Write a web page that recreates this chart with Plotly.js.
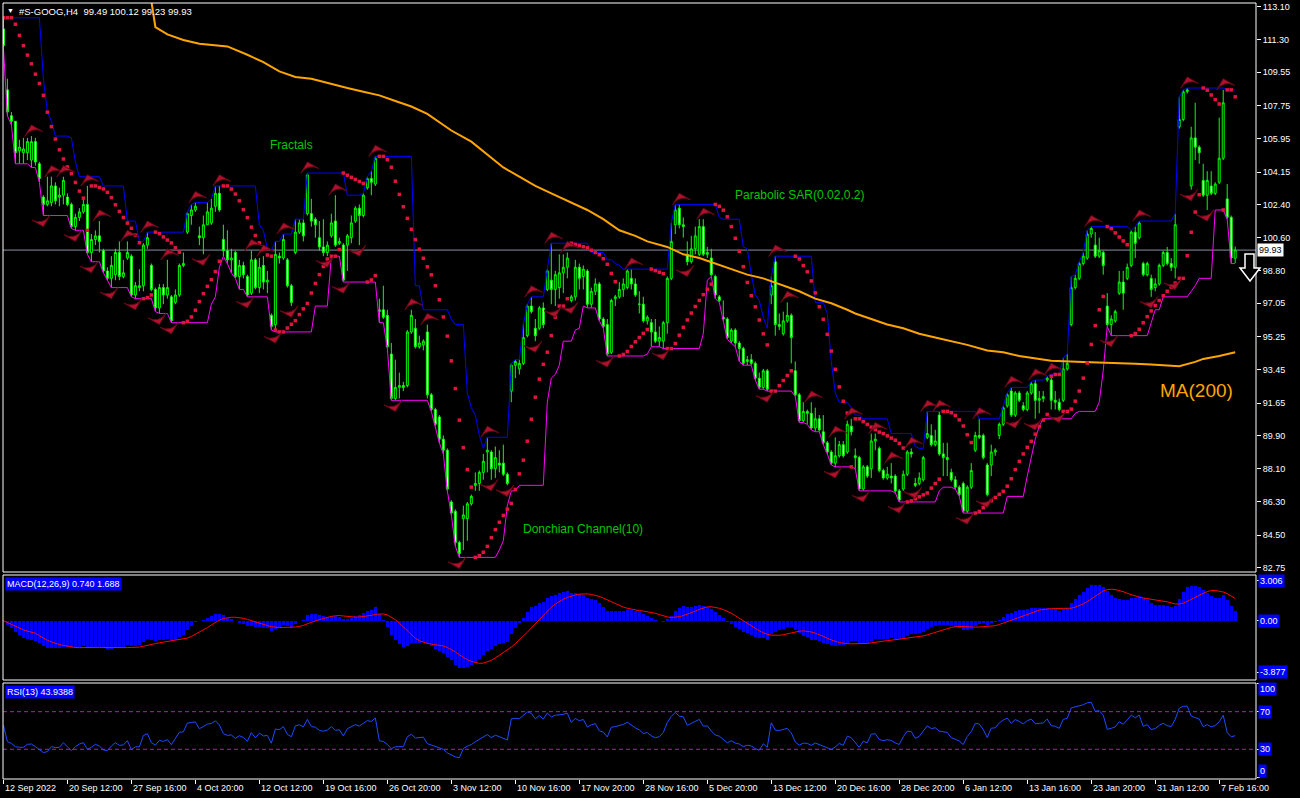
<!DOCTYPE html>
<html><head><meta charset="utf-8">
<script src="https://cdn.plot.ly/plotly-3.0.1.min.js"></script>
<style>html,body{margin:0;padding:0;background:#000;overflow:hidden}#chart{width:1300px;height:798px}</style>
</head><body><div id="chart"></div>
<script>
// ---- H4 candles, #S-GOOG ----
const open = [
111.9,108.6,107.2,106.9,105.3,105.2,105.2,104.8,105.8,104.6,
102.8,102.4,102.5,103.4,102.8,102.9,102.8,102.4,101.2,101.7,
102.0,102.4,99.8,100.5,100.7,99.9,98.8,98.4,98.6,99.8,
98.5,99.5,99.6,97.5,97.9,98.0,100.2,99.1,97.8,96.8,
97.9,97.5,97.4,97.1,97.5,99.1,100.9,101.8,102.1,100.7,
100.6,101.3,101.4,102.3,103.0,100.5,99.9,99.4,99.8,98.5,
99.1,98.5,97.6,99.4,97.9,99.1,98.2,96.4,95.9,99.6,
99.5,99.4,98.0,99.8,100.9,101.4,101.9,101.9,101.6,100.6,
100.1,99.8,100.7,101.5,100.3,100.2,100.2,100.6,101.5,102.2,
101.8,103.3,103.8,103.5,96.6,96.7,96.4,94.3,91.9,92.5,
92.6,92.6,95.5,95.7,94.7,94.8,95.5,92.1,91.3,90.9,
89.7,89.1,86.3,85.8,84.1,85.4,85.4,86.2,87.2,87.3,
87.9,89.0,89.0,88.1,88.4,88.4,87.8,92.3,93.7,93.5,
93.8,95.3,96.9,95.7,95.7,96.8,97.8,98.3,97.8,97.9,
98.7,99.0,97.2,97.4,99.0,98.5,98.8,97.0,97.7,98.1,
96.2,95.9,94.4,97.3,97.4,97.8,97.9,98.4,98.1,97.0,
97.0,96.1,96.0,95.5,95.0,95.0,96.0,98.4,101.3,102.2,
101.3,99.7,99.3,100.0,99.7,101.2,99.7,99.5,98.5,97.4,
96.3,96.2,95.0,95.6,94.9,94.6,93.9,94.0,93.8,93.0,
92.5,93.4,97.5,99.3,95.9,95.4,96.1,96.4,93.4,92.1,
90.7,91.2,91.1,90.3,90.8,90.1,89.5,89.0,88.4,88.8,
89.4,89.0,90.4,88.8,88.7,87.0,88.2,88.1,89.6,89.2,
88.0,87.6,87.7,87.7,86.9,87.0,87.8,89.0,87.3,87.3,
87.5,89.8,89.9,89.4,91.0,88.9,88.7,87.9,87.5,87.1,
87.3,85.8,87.1,89.1,89.9,89.9,88.3,88.3,89.0,89.9,
90.5,91.5,92.3,91.0,92.2,91.5,91.3,92.2,92.7,91.8,
91.9,92.9,92.9,91.8,91.7,91.8,93.5,95.9,97.9,98.4,
99.2,99.5,100.8,100.2,99.6,99.8,96.9,95.9,96.1,97.6,
98.2,98.4,99.1,100.9,100.6,99.2,98.6,98.4,97.9,98.1,
99.1,99.8,99.2,99.0,106.6,107.0,108.5,103.4,106.0,105.5,
103.7,102.9,103.4,103.0,103.6,104.9,102.7,101.7,99.49];
const high = [
112.5,109.2,107.4,106.9,105.9,106.0,106.0,106.1,106.0,104.7,
102.9,103.9,103.9,103.6,103.3,103.9,103.0,102.5,101.9,102.2,
102.7,103.4,100.8,101.0,101.5,100.0,99.0,99.6,100.0,100.4,
99.4,100.4,99.7,98.2,98.9,100.3,100.9,99.2,97.9,98.1,
98.1,99.4,97.5,97.8,99.2,99.8,102.0,102.4,102.5,101.2,
101.8,102.5,102.7,103.4,103.4,101.3,101.0,100.0,99.9,99.4,
99.3,98.6,99.9,99.5,99.5,99.6,98.8,96.5,100.4,99.8,
100.8,99.5,98.1,101.6,101.6,101.6,104.1,102.7,101.7,101.5,
101.6,100.4,101.9,102.9,100.6,100.3,100.8,101.8,102.3,102.4,
103.0,103.9,104.2,105.0,97.3,98.0,96.7,94.9,94.0,93.3,
92.8,95.6,96.7,96.2,95.3,95.1,95.9,92.2,91.4,91.0,
89.9,89.2,86.4,85.9,84.2,86.1,86.3,86.7,87.9,88.0,
88.9,89.8,89.1,89.3,89.1,89.4,87.9,93.8,94.0,94.0,
95.9,97.0,97.4,96.2,96.9,97.1,98.9,100.3,98.8,99.7,
99.7,99.8,97.5,99.4,99.2,99.1,98.9,97.9,98.4,98.2,
96.3,96.2,97.3,97.5,98.2,98.4,98.9,98.9,98.4,97.7,
97.4,96.4,96.2,96.2,95.8,96.1,98.5,101.4,102.4,102.4,
101.7,100.4,100.7,101.2,101.6,101.6,100.1,100.0,98.6,97.5,
97.2,96.3,95.7,95.7,95.0,94.7,94.2,94.3,93.9,93.3,
93.5,93.5,98.5,99.6,96.5,96.6,97.1,96.5,93.9,92.2,
91.7,91.3,91.7,91.4,91.0,91.0,89.6,89.1,89.8,89.6,
89.6,90.7,90.8,89.2,88.8,88.3,88.3,90.0,90.0,89.3,
88.1,88.2,88.4,87.8,87.0,88.0,89.1,89.2,87.6,87.9,
88.8,91.2,90.5,90.2,91.2,89.5,89.5,88.1,87.7,87.2,
87.4,87.2,88.4,90.1,90.8,90.0,88.4,89.4,89.2,90.6,
91.5,92.2,92.5,92.3,92.3,91.7,92.3,92.8,92.9,92.3,
92.3,93.1,93.2,92.3,91.9,94.1,94.3,98.5,98.6,99.3,
99.8,101.0,101.2,100.9,100.6,99.9,97.6,96.4,96.7,98.8,
98.8,99.2,101.0,101.2,101.5,99.3,99.3,98.6,98.4,99.2,
99.9,100.1,99.5,101.9,108.2,108.6,108.7,106.6,107.9,105.6,
104.6,104.2,104.2,103.6,107.1,108.6,103.5,101.8,100.12];
const low = [
110.9,107.2,106.7,104.6,104.6,104.6,104.8,104.4,104.5,103.6,
101.8,102.3,102.3,102.4,102.3,102.4,102.3,101.1,101.0,101.5,
101.9,99.7,99.3,100.2,99.8,98.7,98.3,97.9,98.3,98.3,
98.4,99.4,97.4,97.3,97.7,97.7,100.0,97.7,96.6,96.5,
97.0,97.3,96.0,97.0,97.4,99.0,100.8,101.3,102.0,100.2,
99.7,101.3,101.3,102.0,102.0,99.6,99.2,98.7,98.4,97.8,
98.4,97.4,97.5,97.8,97.6,97.8,97.6,95.6,95.5,99.2,
99.4,97.9,96.9,99.7,100.8,100.4,101.8,101.2,100.6,99.9,
99.6,99.6,100.6,100.1,100.2,98.2,98.8,100.3,101.4,100.2,
101.7,103.2,102.9,103.4,96.0,96.2,94.6,91.8,91.8,91.9,
92.3,92.5,95.4,94.6,94.6,94.5,91.9,91.2,90.4,89.5,
88.9,86.9,85.6,83.9,83.3,83.7,84.2,86.1,86.9,86.9,
87.5,87.9,87.5,87.6,87.9,87.7,87.2,91.7,93.0,93.2,
93.7,95.2,96.5,95.0,95.6,95.7,97.7,97.0,96.9,97.3,
97.6,98.4,97.1,97.2,97.8,97.8,96.8,96.8,97.5,96.1,
95.7,94.2,94.3,96.9,97.3,97.4,97.8,97.8,97.4,96.5,
96.0,95.9,94.7,94.9,94.7,94.6,95.4,98.3,100.8,101.1,
100.6,99.1,99.2,99.7,99.6,99.6,99.5,98.5,97.3,97.1,
96.1,95.1,94.9,94.7,93.9,93.7,93.7,93.7,92.9,92.4,
92.4,92.3,97.0,95.3,95.6,95.3,96.0,93.8,92.0,90.6,
90.6,90.5,90.2,90.1,90.1,89.4,88.9,88.3,88.2,88.7,
88.7,88.9,89.9,88.1,86.9,86.9,87.6,87.6,89.1,87.9,
87.5,87.5,87.3,86.8,86.3,86.9,87.7,88.7,87.1,87.2,
87.4,89.7,89.3,89.3,88.8,87.7,87.7,87.4,87.0,86.6,
85.7,85.7,87.0,89.0,89.7,88.6,86.6,87.7,88.8,89.7,
90.4,91.4,90.9,90.9,91.7,91.2,91.2,92.1,90.8,91.1,
91.7,92.8,91.3,91.3,91.2,91.7,93.4,95.8,97.8,98.3,
99.1,99.4,100.6,99.5,99.5,98.6,95.8,95.3,96.0,97.5,
96.7,98.3,99.0,99.5,100.5,98.5,98.5,97.4,97.7,98.0,
99.0,99.1,98.8,98.4,106.5,106.9,108.4,103.2,104.8,104.6,
102.8,102.1,102.9,102.9,103.5,104.8,101.6,99.2,99.23];
const close = [
111.0,107.4,106.9,105.2,105.5,105.4,105.8,105.8,104.7,103.8,
102.4,102.6,103.4,102.6,102.9,103.7,102.4,101.2,101.7,102.0,
102.4,99.8,100.5,100.7,100.4,98.8,98.4,99.1,99.8,98.5,
98.7,99.8,97.5,98.0,98.0,100.2,100.6,97.8,96.8,97.9,
97.5,97.9,96.1,97.5,99.1,99.2,101.9,102.1,102.3,100.6,
101.3,102.0,102.2,103.0,102.1,99.9,99.4,99.5,98.5,99.1,
98.6,97.5,99.4,97.9,99.0,98.2,98.3,95.8,99.7,99.5,
100.5,98.0,97.1,100.9,101.4,100.7,104.0,101.5,101.3,100.1,
99.8,100.2,101.4,100.2,100.4,98.3,100.7,101.4,102.2,101.8,
102.9,103.8,103.6,104.9,96.7,96.3,94.7,91.9,92.5,92.6,
92.5,95.5,96.4,94.7,94.9,95.0,92.1,91.3,90.5,89.7,
89.1,87.0,85.7,84.1,83.5,85.6,86.2,86.6,87.3,87.9,
88.5,89.1,88.1,88.7,88.3,87.8,87.3,93.7,93.9,93.8,
95.2,96.9,96.6,95.3,96.8,95.9,98.8,97.8,98.6,98.7,
99.0,99.5,97.4,99.0,98.4,98.9,97.0,97.7,98.1,96.2,
95.8,94.3,97.2,97.4,97.8,98.1,98.8,98.1,97.5,97.0,
96.1,96.3,95.5,95.0,95.2,96.0,98.4,100.4,102.1,101.3,
101.2,99.3,100.0,100.7,101.2,99.7,99.8,98.6,97.5,97.2,
96.2,95.2,95.6,94.9,94.6,93.8,94.0,93.8,93.0,92.5,
93.4,92.4,98.0,95.9,95.8,96.1,96.4,95.2,92.1,90.7,
91.2,91.1,90.3,90.8,90.2,89.5,89.0,88.4,88.8,89.4,
88.8,90.5,90.1,88.7,87.0,88.2,87.7,89.6,89.7,88.0,
87.6,87.8,87.6,86.9,86.4,87.8,89.0,88.9,87.2,87.6,
88.7,90.0,89.4,89.6,88.9,88.7,88.6,87.5,87.1,86.7,
85.8,87.1,88.0,89.9,89.8,88.7,86.7,89.0,89.1,90.5,
91.4,92.1,91.0,92.2,91.8,91.3,92.2,92.7,91.8,91.9,
92.0,93.0,91.8,91.7,91.3,93.5,93.8,97.9,98.4,99.2,
99.6,100.8,101.1,99.6,99.9,99.1,95.9,96.2,96.6,98.2,
97.6,99.0,100.9,100.3,101.4,98.6,99.2,97.8,98.1,99.1,
99.8,99.2,99.0,101.3,107.0,108.5,108.6,106.0,105.5,105.2,
102.9,103.7,103.0,103.5,104.9,107.9,101.7,99.5,99.93];

// ---- MA(200) (bar index, value) ----
const maIdx = [37,38,41,45,49,53,56,61,65,69,73,77,82,86,90,94,98,102,106,108,112,117,121,125,129,133,137,141,146,150,154,158,161,166,170,174,178,182,186,190,195,199,203,207,211,213,217,221,225,229,233,237,241,246,250,254,258,262,270,278,283,287,292,294,298,300,304,308];
const maVal = [113.4,112.0,111.6,111.3,111.1,111.0,110.95,110.5,110.1,109.6,109.3,109.2,108.9,108.7,108.5,108.3,108.0,107.7,107.3,107.0,106.4,105.8,105.1,104.4,103.9,103.4,103.0,102.6,102.1,101.6,101.0,100.7,100.4,100.1,99.7,99.5,99.2,98.9,98.6,98.4,98.0,97.7,97.3,97.05,96.7,96.5,96.2,95.9,95.7,95.4,95.2,95.0,94.8,94.5,94.4,94.2,94.08,93.94,93.88,93.84,93.78,93.74,93.64,93.64,93.88,94.04,94.2,94.4];

// ---- RSI(13) of the first bars (history before the window is not visible) ----
const rsiHead = [55.6,38.1,36.3,32.8,32.1,32.1,35.3,35.6,32.8,30.0,26.5,27.5,32.8,31.8,32.1,37.0,32.8,28.6,32.8,35.6,37.0,30.0,32.1,35.3,33.5,29.3,28.6,33.5,37.0,34.2,34.6,39.1];

// ---- axis labels ----
const timeIdx = [0,16,32,48,64,80,96,112,128,144,160,176,192,208,224,240,256,272,288,304];
const timeLabels = ['12 Sep 2022','20 Sep 12:00','27 Sep 16:00','4 Oct 20:00','12 Oct 12:00','19 Oct 16:00','26 Oct 20:00','3 Nov 12:00','10 Nov 16:00','17 Nov 20:00','28 Nov 16:00','5 Dec 20:00','13 Dec 12:00','20 Dec 16:00','28 Dec 20:00','6 Jan 12:00','13 Jan 16:00','23 Jan 20:00','31 Jan 12:00','7 Feb 16:00'];
const priceTicks = [113.10,111.30,109.55,107.75,105.95,104.15,102.40,100.60,98.80,97.05,95.25,93.45,91.65,89.90,88.10,86.30,84.50,82.75];
const macdTicks = [3.006,0.00,-3.877];
const macdTickText = ['3.006','0.00','-3.877'];
const rsiLevels = [70,30];
const headerText = '#S-GOOG,H4\u00a0\u00a099.49 100.12 99.23 99.93';
const macdTitle = 'MACD(12,26,9) 0.740 1.688';
const rsiTitle = 'RSI(13) 43.9388';

// ---- indicators derived from the candles ----
const n = close.length;
const idx = close.map((_,i)=>i);
const dcUp = high.map((_,i)=>Math.max(...high.slice(Math.max(0,i-9),i+1)));
const dcLo = low.map((_,i)=>Math.min(...low.slice(Math.max(0,i-9),i+1)));

function psar(h,l,step,maxAf){
  let bull=false, af=step, ep=l[0], sar=h[0]; const out=[sar];
  for(let i=1;i<h.length;i++){
    let s = sar + af*(ep-sar);
    if(bull){
      s = Math.min(s, l[i-1], l[Math.max(0,i-2)]);
      if(l[i] < s){ bull=false; s=ep; ep=l[i]; af=step; }
      else if(h[i] > ep){ ep=h[i]; af=Math.min(af+step,maxAf); }
    } else {
      s = Math.max(s, h[i-1], h[Math.max(0,i-2)]);
      if(h[i] > s){ bull=true; s=ep; ep=h[i]; af=step; }
      else if(l[i] < ep){ ep=l[i]; af=Math.min(af+step,maxAf); }
    }
    sar=s; out.push(s);
  }
  return out;
}
const sar = psar(high,low,0.02,0.2);

const fuX=[],fuY=[],fdX=[],fdY=[];
for(let i=2;i<n-2;i++){
  if(high[i]>=high[i-1]&&high[i]>=high[i-2]&&high[i]>high[i+1]&&high[i]>high[i+2]){fuX.push(i);fuY.push(high[i]);}
  if(low[i]<=low[i-1]&&low[i]<=low[i-2]&&low[i]<low[i+1]&&low[i]<low[i+2]){fdX.push(i);fdY.push(low[i]);}
}

function ema(arr,p){const k=2/(p+1);const o=[arr[0]];for(let i=1;i<arr.length;i++)o.push(arr[i]*k+o[i-1]*(1-k));return o;}
const e12=ema(close,12), e26=ema(close,26);
const macd = close.map((_,i)=>e12[i]-e26[i]);
const signal = macd.map((_,i)=>{const s=macd.slice(Math.max(0,i-8),i+1);return s.reduce((a,b)=>a+b,0)/s.length;});

const P=13; const rsiCalc = new Array(n).fill(null);
{let g=0,ls=0;for(let i=1;i<=P;i++){const d=close[i]-close[i-1];if(d>0)g+=d;else ls-=d;}
 let ag=g/P, al=ls/P; rsiCalc[P]=100-100/(1+ag/al);
 for(let i=P+1;i<n;i++){const d=close[i]-close[i-1];ag=(ag*(P-1)+(d>0?d:0))/P;al=(al*(P-1)+(d<0?-d:0))/P;rsiCalc[i]=al===0?100:100-100/(1+ag/al);}}
const rsiY = idx.map(i=> i<rsiHead.length ? rsiHead[i] : rsiCalc[i]);

// ---- geometry ----
const W=1300,H=798, mL=3,mR=44,mT=3,mB=19;
const plotH=H-mT-mB, plotW=W-mL-mR;
const py=v=>(H-mB-v)/plotH;          // pixel row -> paper y
const pxp=v=>(v-mL)/plotW;           // pixel col -> paper x
const dMain=[py(572),1], dMacd=[py(680),py(575)], dRsi=[0,py(683)];
const FONT='Liberation Sans, Arial, sans-serif';
const FRC='#B0122E';

const traces = [
 {type:'candlestick',x:idx,open:open,high:high,low:low,close:close,xaxis:'x',yaxis:'y',
  increasing:{line:{color:'#00FF00',width:1},fillcolor:'#000000'},
  decreasing:{line:{color:'#00FF00',width:1},fillcolor:'#FFFFFF'},whiskerwidth:0,hoverinfo:'skip'},
 {type:'scatter',mode:'lines',x:idx,y:dcUp,line:{color:'#0000FF',width:1},yaxis:'y',hoverinfo:'skip'},
 {type:'scatter',mode:'lines',x:idx,y:dcLo,line:{color:'#FF00FF',width:1},yaxis:'y',hoverinfo:'skip'},
 {type:'scatter',mode:'lines',x:maIdx,y:maVal,line:{color:'#FFA500',width:2},yaxis:'y',hoverinfo:'skip'},
 {type:'scatter',mode:'markers',x:idx,y:sar,marker:{symbol:'square',size:3.5,color:'#E0143C'},yaxis:'y',hoverinfo:'skip'},
 {type:'scatter',mode:'markers',x:fuX,y:fuY.map(v=>v+0.6),marker:{symbol:'arrow-wide',angle:-15,size:13,color:FRC,line:{width:1,color:'#6A0818'}},yaxis:'y',hoverinfo:'skip'},
 {type:'scatter',mode:'markers',x:fdX,y:fdY.map(v=>v-0.6),marker:{symbol:'arrow-wide',angle:165,size:13,color:FRC,line:{width:1,color:'#6A0818'}},yaxis:'y',hoverinfo:'skip'},
 {type:'bar',x:idx,y:macd,width:0.72,marker:{color:'#0000FF',line:{width:0}},yaxis:'y2',hoverinfo:'skip'},
 {type:'scatter',mode:'lines',x:idx,y:signal,line:{color:'#FF0000',width:1},yaxis:'y2',hoverinfo:'skip'},
 {type:'scatter',mode:'lines',x:idx,y:rsiY,line:{color:'#1E4BFF',width:1},yaxis:'y3',hoverinfo:'skip'}
];

const shapes = [
 {type:'line',xref:'paper',x0:0,x1:1,yref:'y',y0:close[n-1],y1:close[n-1],line:{color:'#8591A0',width:1},layer:'below'},
 ...rsiLevels.map(v=>({type:'line',xref:'paper',x0:0,x1:1,yref:'y3',y0:v,y1:v,line:{color:'#C010D0',width:1,dash:'4px,3px'}})),
 {type:'rect',xref:'paper',yref:'paper',x0:0,x1:1,y0:dMain[0],y1:dMain[1],line:{color:'#FFFFFF',width:1}},
 {type:'rect',xref:'paper',yref:'paper',x0:0,x1:1,y0:dMacd[0],y1:dMacd[1],line:{color:'#FFFFFF',width:1}},
 {type:'rect',xref:'paper',yref:'paper',x0:0,x1:1,y0:dRsi[0],y1:dRsi[1],line:{color:'#FFFFFF',width:1}},
 {type:'path',xref:'paper',yref:'paper',
  path:`M${pxp(1245)},${py(254)} L${pxp(1254)},${py(254)} L${pxp(1254)},${py(268)} L${pxp(1260)},${py(268)} L${pxp(1250)},${py(281)} L${pxp(1240)},${py(268)} L${pxp(1245)},${py(268)} Z`,
  fillcolor:'#000000',line:{color:'#FFFFFF',width:1.5}}
];

const ann = [];
timeIdx.forEach((t,k)=>ann.push({x:t,xref:'x',y:0,yref:'paper',yanchor:'top',xanchor:'left',yshift:-2,text:timeLabels[k],showarrow:false,font:{color:'#FFFFFF',size:9,family:FONT}}));
ann.push({x:0,xref:'paper',y:1,yref:'paper',xanchor:'left',yanchor:'top',xshift:2,yshift:-2,text:'\u25BC',showarrow:false,font:{color:'#FFFFFF',size:7,family:FONT}});
ann.push({x:0,xref:'paper',y:1,yref:'paper',xanchor:'left',yanchor:'top',xshift:14,yshift:-1,text:headerText,showarrow:false,font:{color:'#FFFFFF',size:9.5,family:FONT}});
ann.push({x:0,xref:'paper',y:dMacd[1],yref:'paper',xanchor:'left',yanchor:'top',xshift:2,yshift:-2,text:macdTitle,showarrow:false,bgcolor:'#0000FF',borderpad:1,font:{color:'#FFFFFF',size:9,family:FONT}});
ann.push({x:0,xref:'paper',y:dRsi[1],yref:'paper',xanchor:'left',yanchor:'top',xshift:2,yshift:-2,text:rsiTitle,showarrow:false,bgcolor:'#0000FF',borderpad:1,font:{color:'#FFFFFF',size:9,family:FONT}});
macdTicks.forEach((v,k)=>ann.push({x:1,xref:'paper',y:v,yref:'y2',xanchor:'left',xshift:2,text:macdTickText[k],showarrow:false,bgcolor:'#0000FF',borderpad:1,font:{color:'#FFFFFF',size:9,family:FONT}}));
[[100,689],[70,null],[30,null],[0,771]].forEach(([lab,pix])=>{
  const yv = pix===null?lab:(100.5-(pix-683)/0.94);
  ann.push({x:1,xref:'paper',y:yv,yref:'y3',xanchor:'left',xshift:2,text:String(lab),showarrow:false,bgcolor:'#0000FF',borderpad:1,font:{color:'#FFFFFF',size:9,family:FONT}});
});
ann.push({x:1,xref:'paper',y:close[n-1],yref:'y',xanchor:'left',xshift:1,text:close[n-1].toFixed(2),showarrow:false,bgcolor:'#FFFFFF',borderpad:1,font:{color:'#000000',size:9,family:FONT}});
ann.push({x:72,y:105.6,xref:'x',yref:'y',text:'Fractals',showarrow:false,font:{color:'#00C800',size:12,family:FONT}});
ann.push({x:199,y:102.9,xref:'x',yref:'y',text:'Parabolic SAR(0.02,0.2)',showarrow:false,font:{color:'#00C800',size:12,family:FONT}});
ann.push({x:145,y:84.83,xref:'x',yref:'y',text:'Donchian Channel(10)',showarrow:false,font:{color:'#00C800',size:12,family:FONT}});
ann.push({x:298.3,y:92.35,xref:'x',yref:'y',text:'MA(200)',showarrow:false,font:{color:'#FFA500',size:19,family:FONT}});

const layout = {
  width:W,height:H,margin:{l:mL,r:mR,t:mT,b:mB,pad:0},
  paper_bgcolor:'#000000',plot_bgcolor:'#000000',showlegend:false,hovermode:false,
  font:{family:FONT,color:'#FFFFFF',size:9},bargap:0,
  xaxis:{range:[-0.1,313.2],anchor:'y3',showgrid:false,zeroline:false,showline:false,
         tickvals:timeIdx,ticktext:timeIdx.map(()=>''),ticks:'outside',ticklen:4,tickcolor:'#FFFFFF',
         showticklabels:false,rangeslider:{visible:false},fixedrange:true},
  yaxis:{domain:dMain,range:[82.51,113.30],side:'right',anchor:'x',showgrid:false,zeroline:false,showline:false,
         tickvals:priceTicks,ticktext:priceTicks.map(v=>v.toFixed(2)),ticks:'outside',ticklen:4,tickcolor:'#FFFFFF',
         tickfont:{color:'#FFFFFF',size:9,family:FONT},fixedrange:true},
  yaxis2:{domain:dMacd,range:[-4.46,3.44],side:'right',anchor:'x',showgrid:false,zeroline:false,showticklabels:false,
          tickvals:macdTicks,ticks:'outside',ticklen:3,tickcolor:'#FFFFFF',fixedrange:true},
  yaxis3:{domain:dRsi,range:[-1.6,100.5],side:'right',anchor:'x',showgrid:false,zeroline:false,showticklabels:false,
          tickvals:[100,70,30,0],ticks:'outside',ticklen:3,tickcolor:'#FFFFFF',fixedrange:true},
  shapes:shapes,annotations:ann
};
Plotly.newPlot('chart',traces,layout,{staticPlot:true,displayModeBar:false});
</script></body></html>
